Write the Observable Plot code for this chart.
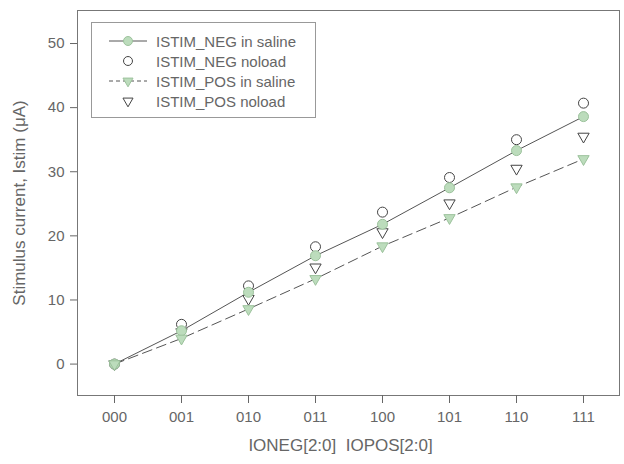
<!DOCTYPE html>
<html>
<head>
<meta charset="utf-8">
<script src="https://cdn.jsdelivr.net/npm/d3@7"></script>
<script src="https://cdn.jsdelivr.net/npm/@observablehq/plot@0.6"></script>
<style>
  html, body { margin: 0; padding: 0; background: #fff; }
  #wrap { position: relative; width: 624px; height: 464px; font-family: "Liberation Sans", Arial, sans-serif; }
  #legend { position: absolute; left: 91px; top: 22px; width: 225px; height: 96px; border: 1px solid #999; background: #fff; box-sizing: border-box; padding-top: 8px; }
  .row { display: flex; align-items: center; height: 20px; color: #666; font-size: 15px; }
  .row svg { margin-left: 17px; margin-right: 9px; }
</style>
</head>
<body>
<div id="wrap"></div>
<script>
const codes = ["000", "001", "010", "011", "100", "101", "110", "111"];
const negSaline = [0, 5.2, 11.2, 16.9, 21.8, 27.5, 33.3, 38.6];
const negNoload = [0, 6.2, 12.2, 18.3, 23.7, 29.1, 35.0, 40.7];
const posSaline = [0, 4.0, 8.6, 13.3, 18.4, 22.8, 27.6, 32.0];
const posNoload = [0, 5.0, 10.2, 15.1, 20.6, 25.1, 30.5, 35.5];
const yTicks = [0, 10, 20, 30, 40, 50];
const seriesNames = ["ISTIM_NEG in saline", "ISTIM_NEG noload", "ISTIM_POS in saline", "ISTIM_POS noload"];

const rows = codes.map((c, i) => ({code: c, negSaline: negSaline[i], negNoload: negNoload[i], posSaline: posSaline[i], posNoload: posNoload[i]}));

const greenFill = "#bcdcbc";
const greenStroke = "#9cc29c";
const lineColor = "#555";

const chart = Plot.plot({
  width: 624,
  height: 464,
  marginLeft: 77,
  marginRight: 5,
  marginTop: 10,
  marginBottom: 69,
  style: {fontFamily: "'Liberation Sans', Arial, sans-serif", fontSize: "15px", color: "#666", background: "#fff"},
  x: {type: "point", domain: codes, padding: 0.5},
  y: {domain: [-4.9, 55.15]},
  marks: [
    Plot.frame({stroke: "#777"}),
    Plot.axisX({tickSize: 8, tickPadding: 8, label: "IONEG[2:0]\u00A0 IOPOS[2:0]", labelAnchor: "center", labelArrow: "none", labelOffset: 55}),
    Plot.axisY({ticks: yTicks, tickSize: 7, tickPadding: 6, label: "Stimulus current, Istim (\u03BCA)", labelAnchor: "center", labelArrow: "none", labelOffset: 65}),
    Plot.line(rows, {x: "code", y: "negSaline", stroke: lineColor, strokeWidth: 1}),
    Plot.line(rows, {x: "code", y: "posSaline", stroke: lineColor, strokeWidth: 1, strokeDasharray: "10,5"}),
    Plot.dot(rows, {x: "code", y: "negNoload", r: 5, fill: "#fff", stroke: "#444", strokeWidth: 1}),
    Plot.dot(rows, {x: "code", y: "posNoload", symbol: "triangle", rotate: 180, r: 4.2, fill: "#fff", stroke: "#444", strokeWidth: 1}),
    Plot.dot(rows, {x: "code", y: "negSaline", r: 5, fill: greenFill, stroke: greenStroke, strokeWidth: 1}),
    Plot.dot(rows, {x: "code", y: "posSaline", symbol: "triangle", rotate: 180, r: 4.2, fill: greenFill, stroke: greenStroke, strokeWidth: 1})
  ]
});

const wrap = document.getElementById("wrap");
wrap.appendChild(chart);
const yl = chart.querySelector('[aria-label="y-axis label"]');
if (yl) yl.style.fontSize = "17px";
const xl = chart.querySelector('[aria-label="x-axis label"]');
if (xl) {
  xl.style.fontSize = "17px";
  const prev = xl.getAttribute("transform") || "";
  xl.setAttribute("transform", `translate(-8,0) ${prev}`);
}

// legend
const legend = document.createElement("div");
legend.id = "legend";
const symbols = [
  {line: "solid", shape: "circle", fill: greenFill, stroke: greenStroke},
  {line: null, shape: "circle", fill: "#fff", stroke: "#444"},
  {line: "dash", shape: "tri", fill: greenFill, stroke: greenStroke},
  {line: null, shape: "tri", fill: "#fff", stroke: "#444"}
];
seriesNames.forEach((name, i) => {
  const s = symbols[i];
  const row = document.createElement("div");
  row.className = "row";
  const svg = d3.create("svg").attr("width", 38).attr("height", 14);
  if (s.line) {
    svg.append("line").attr("x1", 0).attr("x2", 38).attr("y1", 7).attr("y2", 7)
      .attr("stroke", lineColor).attr("stroke-width", 1)
      .attr("stroke-dasharray", s.line === "dash" ? "4,3" : null);
  }
  const sym = s.shape === "circle" ? d3.symbolCircle : d3.symbolTriangle;
  const area = s.shape === "circle" ? Math.PI * 20 : Math.PI * 14;
  svg.append("path").attr("d", d3.symbol(sym, area)())
    .attr("transform", `translate(19,7) rotate(${s.shape === "tri" ? 180 : 0})`)
    .attr("fill", s.fill).attr("stroke", s.stroke);
  row.appendChild(svg.node());
  const t = document.createElement("span");
  t.textContent = name;
  row.appendChild(t);
  legend.appendChild(row);
});
wrap.appendChild(legend);
</script>
</body>
</html>
